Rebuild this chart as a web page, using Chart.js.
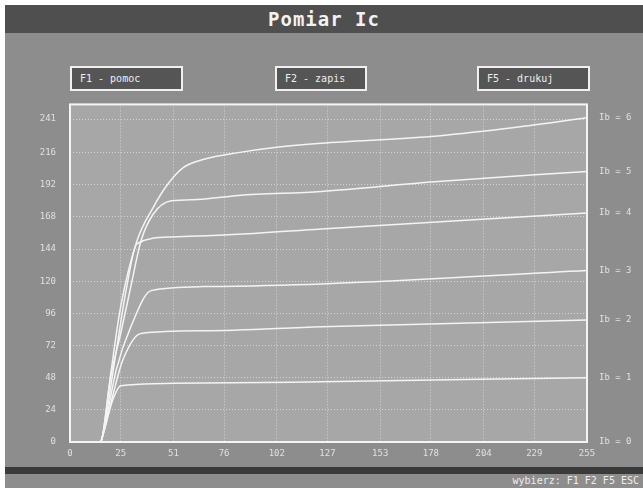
<!DOCTYPE html>
<html>
<head>
<meta charset="utf-8">
<script src="https://cdn.jsdelivr.net/npm/chart.js@4/dist/chart.umd.min.js"></script>
<style>
  html, body { margin: 0; padding: 0; }
  body { width: 643px; height: 488px; background: #fff; position: relative; overflow: hidden;
         font-family: "DejaVu Sans Mono", monospace; }
  .screen { position: absolute; left: 5px; top: 5px; right: 0; bottom: 0; background: #8d8d8d; }
  .title { position: absolute; left: 5px; top: 5px; right: 0; height: 28px; background: #4f4f4f;
           color: #f2f2f2; font-size: 19px; font-weight: bold; text-align: center; line-height: 28px; letter-spacing: 1px; }
  .btn { position: absolute; top: 66px; height: 21px; border: 2px solid #f0f0f0; background: #555;
         color: #eee; font-size: 10px; line-height: 21px; padding-left: 8px; box-sizing: content-box; }
  #wrap { position: absolute; left: 0; top: 85px; width: 643px; height: 380px; }
  .band { position: absolute; left: 5px; right: 0; top: 467px; height: 7px; background: #3a3a3a; }
  .status { position: absolute; right: 4px; top: 475px; color: #eee; font-size: 10px; }
</style>
</head>
<body>
<div class="screen"></div>
<div class="title">Pomiar Ic</div>
<div class="btn" style="left:70px;width:101px">F1 - pomoc</div>
<div class="btn" style="left:275px;width:80px">F2 - zapis</div>
<div class="btn" style="left:477px;width:101px">F5 - drukuj</div>
<div id="wrap"><canvas id="chart" width="643" height="380"></canvas></div>
<div class="band"></div>
<div class="status">wybierz: F1 F2 F5 ESC</div>
<script>
'use strict';

// x: Uce, y: Ic (raw units)
const xTicks = [0, 25, 51, 76, 102, 127, 153, 178, 204, 229, 255];
const yTicks = [0, 24, 48, 72, 96, 120, 144, 168, 192, 216, 241];
const ibLabels = ['Ib = 6', 'Ib = 5', 'Ib = 4', 'Ib = 3', 'Ib = 2', 'Ib = 1', 'Ib = 0'];

const curveA = [[0,0],[15,0],[16,4],[20,50],[25,101],[33,150],[41,175],[48,192],[56,205],[66,211],[83,216],[102,220],[124,223],[178,228],[215,234],[255,242]];
const curveB = [[0,0],[15,0],[16,4],[20,48],[25,81],[30,116],[35,150],[41,170],[50,180],[63,181],[83,184],[124,187],[178,194],[255,202]];
const curveC = [[0,0],[15,0],[16,4],[22,60],[28,116],[33,148],[50,153],[83,155],[124,159],[255,171]];
const curveD = [[0,0],[15,0],[16,4],[23,55],[30,86],[40,113],[66,116],[124,118],[255,128]];
const curveE = [[0,0],[15,0],[16,4],[22,40],[26,61],[35,81],[66,83],[124,86],[255,91]];
const curveF = [[0,0],[15,0],[16,4],[21,31],[25,42],[66,44],[124,45],[255,48]];
const curveG = [[0,0],[255,0]];

const curves = [curveA, curveB, curveC, curveD, curveE, curveF, curveG];
const endValues = curves.map(c => c[c.length - 1][1]);

const tickFont = { family: 'DejaVu Sans Mono', size: 9 };
const tickColor = '#e0e0e0';

const plotFrame = {
  id: 'plotFrame',
  beforeDraw(chart) {
    const a = chart.chartArea, ctx = chart.ctx;
    ctx.save();
    ctx.fillStyle = '#a7a7a7';
    ctx.fillRect(a.left, a.top, a.right - a.left, a.bottom - a.top);
    ctx.restore();
  },
  afterDraw(chart) {
    const a = chart.chartArea, ctx = chart.ctx;
    ctx.save();
    ctx.strokeStyle = '#f4f4f4';
    ctx.lineWidth = 2;
    ctx.strokeRect(a.left, a.top, a.right - a.left, a.bottom - a.top);
    ctx.restore();
  },
};

new Chart(document.getElementById('chart'), {
  type: 'line',
  data: {
    datasets: curves.map(c => ({
      data: c.map(p => ({ x: p[0], y: p[1] })),
      borderColor: '#f4f4f4',
      borderWidth: 1.5,
      pointRadius: 0,
      cubicInterpolationMode: 'monotone',
      fill: false,
    })),
  },
  options: {
    responsive: false,
    animation: false,
    layout: { padding: { top: 8, left: 0, right: 0, bottom: 0 } },
    plugins: { legend: { display: false }, tooltip: { enabled: false } },
    scales: {
      x: {
        type: 'linear', min: 0, max: 255,
        afterBuildTicks: s => { s.ticks = xTicks.map(v => ({ value: v })); },
        afterFit: s => { s.height = 23; },
        ticks: { autoSkip: false, maxRotation: 0, padding: 6, color: tickColor, font: tickFont },
        grid: { color: 'rgba(255,255,255,0.5)', drawTicks: false },
        border: { display: false, dash: [1, 2] },
      },
      y: {
        type: 'linear', min: 0, max: 252, position: 'left',
        afterBuildTicks: s => { s.ticks = yTicks.map(v => ({ value: v })); },
        afterFit: s => { s.width = 70; },
        ticks: { autoSkip: false, padding: 14, color: tickColor, font: tickFont },
        grid: { color: 'rgba(255,255,255,0.5)', drawTicks: false },
        border: { display: false, dash: [1, 2] },
      },
      ib: {
        type: 'linear', min: 0, max: 252, position: 'right',
        afterBuildTicks: s => { s.ticks = endValues.map(v => ({ value: v })); },
        afterFit: s => { s.width = 56; },
        ticks: {
          autoSkip: false, padding: 12, color: tickColor, font: tickFont,
          callback: (v, i) => ibLabels[i],
        },
        grid: { display: false, drawTicks: false },
        border: { display: false },
      },
    },
  },
  plugins: [plotFrame],
});
</script>
</body>
</html>
